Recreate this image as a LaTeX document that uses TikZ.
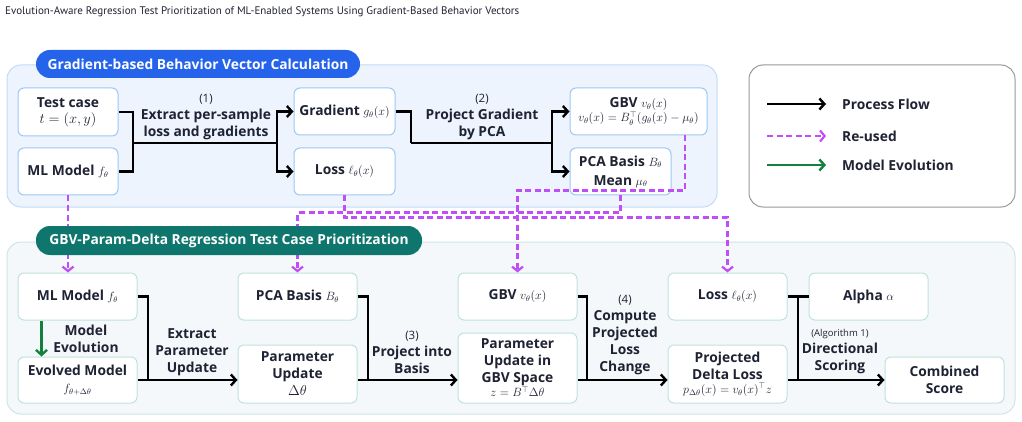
\documentclass[tikz,border=0pt]{standalone}
\usepackage{amsmath}
\usepackage{fontspec}
\setmainfont{Open Sans}
\newfontfamily\titlefont{PT Sans}
\usetikzlibrary{arrows.meta}

\definecolor{ink}{HTML}{1F2233}
\definecolor{blueedge}{HTML}{9CC7F7}
\definecolor{bluepanel}{HTML}{EEF4FD}
\definecolor{bluepaneledge}{HTML}{C3DAF6}
\definecolor{bluepill}{HTML}{2563EB}
\definecolor{tealedge}{HTML}{BFE3DC}
\definecolor{tealpanel}{HTML}{F5F8FA}
\definecolor{tealpaneledge}{HTML}{CFE6E2}
\definecolor{tealpill}{HTML}{0F766E}
\definecolor{reuse}{HTML}{C04EF6}
\definecolor{evolve}{HTML}{15803D}

\newcommand{\sm}[1]{{\fontsize{11.5}{13}\selectfont$#1$}}
\newcommand{\boxfont}{\fontsize{13.8}{17}\selectfont\bfseries}
\newcommand{\stepfont}{\fontsize{11.5}{13}\selectfont\mdseries}

\tikzset{
  box/.style={draw=blueedge, fill=white, line width=1pt, rounded corners=6pt,
    align=center, font=\boxfont, text=ink, inner sep=2pt},
  tbox/.style={box, draw=tealedge},
  pill/.style={rounded corners=14pt, text=white, font=\boxfont, inner sep=0pt},
  lbl/.style={align=center, font=\boxfont, text=ink, inner sep=0pt},
  line/.style={line width=2.6pt, black, line join=miter},
  flow/.style={line, -{Straight Barb[length=5pt,width=11pt,line width=2.4pt]}},
  reused/.style={draw=reuse, line width=2.4pt, dash pattern=on 6pt off 3.5pt,
    -{Straight Barb[length=4.5pt,width=11pt,line width=2.2pt]}},
  evol/.style={draw=evolve, line width=2.4pt,
    -{Straight Barb[length=5pt,width=11pt,line width=2.4pt]}},
}

\begin{document}
\begin{tikzpicture}[x=1pt, y=-1pt]
  \useasboundingbox (0,0) rectangle (1022,422);
  \node[anchor=west, text=ink, inner sep=0pt, font={\titlefont\fontsize{11}{13}\selectfont}] (title) at (5,12)
    {Evolution-Aware Regression Test Prioritization of ML-Enabled Systems Using Gradient-Based Behavior Vectors};

  \draw[bluepaneledge, fill=bluepanel, line width=1pt, rounded corners=14pt] (7,65) rectangle (717,207);
  \draw[tealpaneledge, fill=tealpanel, line width=1pt, rounded corners=14pt] (7,242) rectangle (1015,414);
  \draw[gray!80, fill=white, line width=1pt, rounded corners=14pt] (749,65) rectangle (1015,207);

  \node[box, minimum width=100pt, minimum height=48pt] (tc) at (68,112) {Test case\\[-1pt]$t=(x,y)$};
  \node[box, minimum width=100pt, minimum height=47pt] (mlA) at (68,171.5) {ML Model \sm{f_\theta}};
  \node[box, minimum width=101pt, minimum height=47pt] (grad) at (344.5,111.5) {Gradient \sm{g_\theta(x)}};
  \node[box, minimum width=101pt, minimum height=47pt] (lossA) at (344.5,171.5) {Loss \sm{\ell_\theta(x)}};
  \node[box, minimum width=137pt, minimum height=47pt] (gbvA) at (638.5,111.5) {GBV \sm{v_\theta(x)}\\[-3pt]\sm{v_\theta(x)=B_\theta^{\top}(g_\theta(x)-\mu_\theta)}};
  \node[box, minimum width=101pt, minimum height=47pt] (pcaA) at (620.5,171.5) {PCA Basis \sm{B_\theta}\\[2pt]Mean \sm{\mu_\theta}};

  \coordinate (j1) at (133,143);
  \coordinate (s1) at (277,143);
  \coordinate (j2) at (411,143);
  \coordinate (s2) at (552,143);
  \draw[line] (tc.east) -| (j1) |- (mlA.east);
  \draw[flow] (j1) -- (s1) |- (grad.west);
  \draw[flow] (s1) |- (lossA.west);
  \draw[line] (grad.east) -| (j2);
  \draw[flow] (j2) -- (s2) |- (gbvA.west);
  \draw[flow] (s2) |- (pcaA.west);
  \node[lbl] (l1) at (206,117) {{\stepfont(1)}\\Extract per-sample\\loss and gradients};
  \node[lbl] (l2) at (482,117) {{\stepfont(2)}\\Project Gradient\\by PCA};

  \node[tbox, minimum width=119pt, minimum height=47pt] (mlB) at (77.5,296.5) {ML Model \sm{f_\theta}};
  \node[tbox, minimum width=119pt, minimum height=46pt] (evo) at (77.5,380) {Evolved Model\\\sm{f_{\theta+\Delta\theta}}};
  \node[tbox, minimum width=119pt, minimum height=47pt] (pcaB) at (297.5,296.5) {PCA Basis \sm{B_\theta}};
  \node[tbox, minimum width=119pt, minimum height=58pt] (pu) at (297.5,374) {Parameter\\Update\\$\Delta\theta$};
  \node[tbox, minimum width=119pt, minimum height=47pt] (gbvB) at (517.5,296.5) {GBV \sm{v_\theta(x)}};
  \node[tbox, minimum width=119pt, minimum height=70pt] (pug) at (517.5,368) {Parameter\\Update in\\GBV Space\\[-3pt]\sm{z=B^{\top}\Delta\theta}};
  \node[tbox, minimum width=119pt, minimum height=47pt] (lossB) at (727.5,296.5) {Loss \sm{\ell_\theta(x)}};
  \node[tbox, minimum width=119pt, minimum height=58pt] (pdl) at (727.5,374) {Projected\\Delta Loss\\[-3pt]\sm{p_{\Delta\theta}(x)=v_\theta(x)^{\top}z}};
  \node[tbox, minimum width=119pt, minimum height=47pt] (alpha) at (868.5,296.5) {Alpha \sm{\alpha}};
  \node[tbox, minimum width=119pt, minimum height=46pt] (cs) at (944.5,380) {Combined\\Score};

  \draw[reused] (mlA.south) -- (mlA.south |- mlB.north);
  \draw[reused] (lossA.south) -- ++(0,22) -| (lossB.north);
  \draw[reused] (pcaA.south) -- ++(0,17) -| (pcaB.north);
  \draw[reused] ([xshift=46.5pt]gbvA.south) -- ++(0,55) -| (gbvB.north);

  \node[pill, fill=bluepill, minimum width=324pt, minimum height=28pt] (tA) at (198,64) {Gradient-based Behavior Vector Calculation};
  \node[pill, fill=tealpill, minimum width=386pt, minimum height=29pt] (tB) at (229,240.5) {GBV-Param-Delta Regression Test Case Prioritization};

  \draw[evol] ([xshift=24pt]mlB.south west) -- ([xshift=24pt]evo.north west);
  \node[lbl] (l0) at (86,339) {Model\\Evolution};

  \coordinate (j3) at (148,380);
  \coordinate (j4) at (368,380);
  \coordinate (j5) at (587,380);
  \coordinate (j6) at (798,380);
  \draw[line] (mlB.east) -| (j3);
  \draw[flow] (evo.east) -- (evo.east -| pu.west);
  \draw[line] (pcaB.east) -| (j4);
  \draw[flow] (j4 -| pu.east) -- (j4 -| pug.west);
  \draw[line] (gbvB.east) -| (j5);
  \draw[flow] (j5 -| pug.east) -- (j5 -| pdl.west);
  \draw[line] (lossB.east) -- (alpha.west);
  \draw[line] (lossB.east -| j6) -- (j6);
  \draw[flow] (j6 -| pdl.east) -- (cs.west);
  \node[lbl] (l3) at (192,352) {Extract\\Parameter\\Update};
  \node[lbl] (l4) at (412,352) {{\stepfont(3)}\\Project into\\Basis};
  \node[lbl] (l5) at (625,335) {{\stepfont(4)}\\Compute\\Projected\\Loss\\Change};
  \node[lbl] (l6) at (840,352) {{\fontsize{9.5}{12}\selectfont\mdseries(Algorithm 1)}\\Directional\\Scoring};

  \coordinate (a1) at (767,104);
  \coordinate (a2) at (767,136);
  \coordinate (a3) at (767,165);
  \draw[flow] (a1) -- ++(59,0);
  \draw[reused] (a2) -- ++(59,0);
  \draw[evol] (a3) -- ++(59,0);
  \node[lbl, anchor=west] (k1) at (842,104) {Process Flow};
  \node[lbl, anchor=west] (k2) at (842,136) {Re-used};
  \node[lbl, anchor=west] (k3) at (842,165) {Model Evolution};
\end{tikzpicture}
\end{document}
